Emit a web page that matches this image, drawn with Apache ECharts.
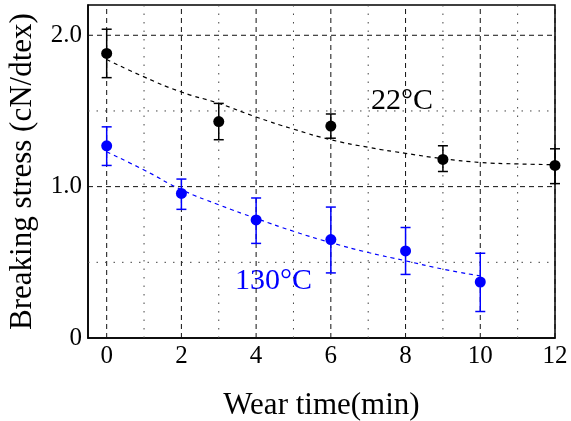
<!DOCTYPE html>
<html>
<head>
<meta charset="utf-8">
<script src="https://cdn.jsdelivr.net/npm/echarts@6/dist/echarts.min.js"></script>
<style>
  html, body { margin: 0; padding: 0; background: #fff; }
  #main { width: 571px; height: 421px; }
</style>
</head>
<body>
<div id="main"></div>
<script>
// measured points (wear time in min, stress in cN/dtex)
var x22 = [0, 3, 6, 9, 12];
var y22 = [1.88, 1.43, 1.40, 1.18, 1.14];
var lo22 = [1.72, 1.31, 1.32, 1.10, 1.02];
var hi22 = [2.04, 1.55, 1.48, 1.27, 1.25];

var x130 = [0, 2, 4, 6, 8, 10];
var y130 = [1.27, 0.955, 0.78, 0.65, 0.575, 0.37];
var lo130 = [1.14, 0.85, 0.625, 0.43, 0.42, 0.175];
var hi130 = [1.395, 1.05, 0.925, 0.865, 0.73, 0.56];

// fitted curves
var fitX22 = [0, 1, 2, 3, 4, 5, 6, 7, 8, 9, 10, 11, 12];
var fitY22 = [1.84, 1.725, 1.625, 1.55, 1.46, 1.38, 1.31, 1.26, 1.22, 1.185, 1.16, 1.15, 1.145];
var fitX130 = [0, 1, 2, 3, 4, 5, 6, 7, 8, 9, 10];
var fitY130 = [1.23, 1.11, 0.98, 0.88, 0.79, 0.705, 0.63, 0.565, 0.51, 0.455, 0.41];

// axis ticks
var xTicks = [0, 2, 4, 6, 8, 10, 12];
var xMinor = [1, 3, 5, 7, 9, 11];
var yTicks = [0, 1, 2];
var yMajorGrid = [1, 2];
var yMinorGrid = [0.5, 1.5];

var X_MIN = -0.5, X_MAX = 12, Y_MIN = 0, Y_MAX = 2.2;

var myChart = echarts.init(document.getElementById('main'));

function zip(a, b) {
    var out = [];
    for (var i = 0; i < a.length; i++) out.push([a[i], b[i]]);
    return out;
}

function errData(xs, lo, hi) {
    var out = [];
    for (var i = 0; i < xs.length; i++) out.push([xs[i], lo[i], hi[i]]);
    return out;
}

function errBar(color) {
    return function (params, api) {
        var x = api.value(0);
        var p1 = api.coord([x, api.value(1)]);
        var p2 = api.coord([x, api.value(2)]);
        var w = 5;
        var st = { stroke: color, lineWidth: 1.5 };
        return {
            type: 'group',
            children: [
                { type: 'line', shape: { x1: p1[0], y1: p1[1], x2: p2[0], y2: p2[1] }, style: st },
                { type: 'line', shape: { x1: p1[0] - w, y1: p1[1], x2: p1[0] + w, y2: p1[1] }, style: st },
                { type: 'line', shape: { x1: p2[0] - w, y1: p2[1], x2: p2[0] + w, y2: p2[1] }, style: st }
            ]
        };
    };
}

// grid lines: [value, isVertical, isMajor]
var gridLines = [];
xTicks.forEach(function (v) { gridLines.push([v, 1, 1]); });
xMinor.forEach(function (v) { gridLines.push([v, 1, 0]); });
yMajorGrid.forEach(function (v) { gridLines.push([v, 0, 1]); });
yMinorGrid.forEach(function (v) { gridLines.push([v, 0, 0]); });

function gridRender(params, api) {
    var v = api.value(0), vert = api.value(1), major = api.value(2);
    var a, b;
    if (vert) { a = api.coord([v, Y_MIN]); b = api.coord([v, Y_MAX]); }
    else { a = api.coord([X_MIN, v]); b = api.coord([X_MAX, v]); }
    return {
        type: 'line',
        shape: { x1: a[0], y1: a[1], x2: b[0], y2: b[1] },
        style: major
            ? { stroke: '#111', lineWidth: 1, lineDash: [5, 4] }
            : { stroke: '#444', lineWidth: 1, lineDash: [1.5, 7] }
    };
}

var serif = "'Liberation Serif', 'Times New Roman', serif";

var option = {
    backgroundColor: '#fff',
    animation: false,
    grid: {
        left: 88, right: 16, top: 5, bottom: 83,
        containLabel: false,
        outerBoundsMode: 'none',
        show: true, borderColor: '#000', borderWidth: 1.5
    },
    xAxis: {
        type: 'value',
        min: X_MIN, max: X_MAX,
        name: 'Wear time(min)',
        nameLocation: 'middle',
        nameGap: 52,
        nameTextStyle: { fontFamily: serif, fontSize: 31, color: '#000' },
        axisLine: { show: true, onZero: false, lineStyle: { color: '#000', width: 1.5 } },
        axisTick: { show: false },
        splitLine: { show: false },
        axisLabel: {
            customValues: xTicks,
            fontFamily: serif, fontSize: 25, color: '#000', margin: 6
        }
    },
    yAxis: {
        type: 'value',
        min: Y_MIN, max: Y_MAX,
        name: 'Breaking stress (cN/dtex)',
        nameLocation: 'middle',
        nameGap: 50,
        nameTextStyle: { fontFamily: serif, fontSize: 31, color: '#000' },
        axisLine: { show: true, onZero: false, lineStyle: { color: '#000', width: 1.5 } },
        axisTick: { show: false },
        splitLine: { show: false },
        axisLabel: {
            customValues: yTicks,
            fontFamily: serif, fontSize: 25, color: '#000', margin: 6,
            formatter: function (v) { return v === 0 ? '0' : v.toFixed(1); }
        }
    },
    graphic: [
        { type: 'text', left: 371, top: 86,
          style: { text: '22°C', fontFamily: serif, fontSize: 30, fill: '#000' } },
        { type: 'text', left: 235, top: 266,
          style: { text: '130°C', fontFamily: serif, fontSize: 30, fill: '#0000ff' } }
    ],
    series: [
        { type: 'custom', name: 'grid', renderItem: gridRender, data: gridLines, z: 1, silent: true,
          encode: { x: 0, y: -1 } },
        { type: 'line', name: 'fit22', data: zip(fitX22, fitY22), smooth: true, symbol: 'none', z: 3,
          lineStyle: { color: '#000', width: 1.2, type: [4, 4] } },
        { type: 'line', name: 'fit130', data: zip(fitX130, fitY130), smooth: true, symbol: 'none', z: 3,
          lineStyle: { color: '#0000ff', width: 1.2, type: [4, 4] } },
        { type: 'custom', name: 'err22', renderItem: errBar('#000'), data: errData(x22, lo22, hi22), z: 4,
          encode: { x: 0, y: [1, 2] } },
        { type: 'custom', name: 'err130', renderItem: errBar('#0000ff'), data: errData(x130, lo130, hi130), z: 4,
          encode: { x: 0, y: [1, 2] } },
        { type: 'scatter', name: '22°C', data: zip(x22, y22), symbolSize: 11, z: 5,
          itemStyle: { color: '#000', opacity: 1 } },
        { type: 'scatter', name: '130°C', data: zip(x130, y130), symbolSize: 11, z: 5,
          itemStyle: { color: '#0000ff', opacity: 1 } }
    ]
};

myChart.setOption(option);
</script>
</body>
</html>
